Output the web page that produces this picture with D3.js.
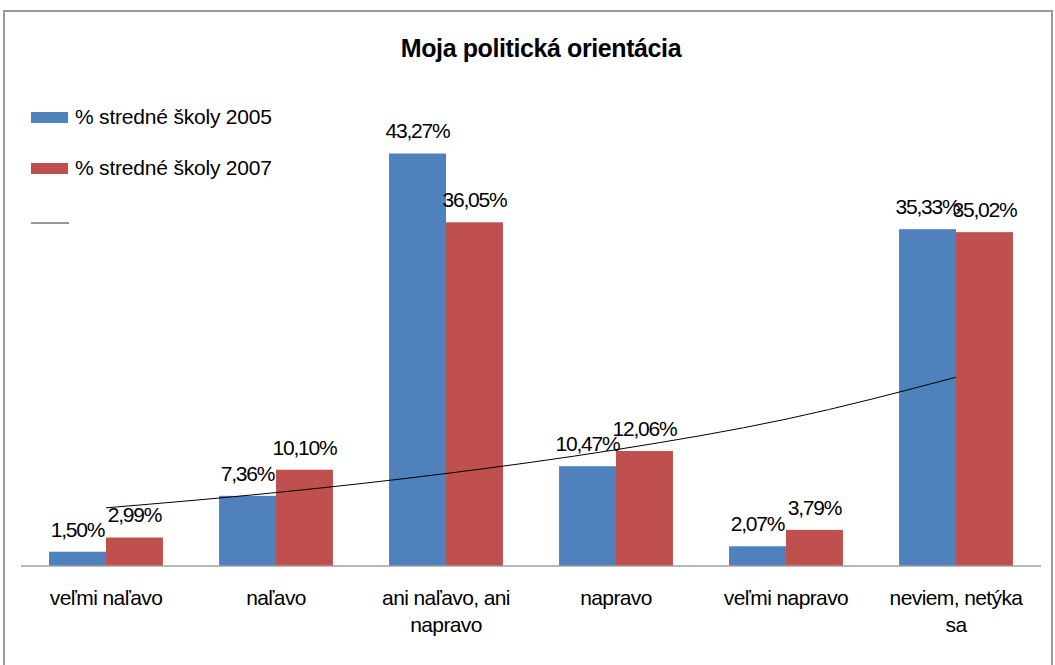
<!DOCTYPE html>
<html>
<head>
<meta charset="utf-8">
<script src="https://cdn.jsdelivr.net/npm/d3@7"></script>
<style>
  body { margin: 0; background: #fff; }
  text { font-family: "Liberation Sans", Arial, sans-serif; fill: #000; }
</style>
</head>
<body>
<div id="graph"></div>
<script>
"use strict";

let width = 1055,
    height = 665;

// data
const categories = ["veľmi naľavo", "naľavo", "ani naľavo, ani napravo", "napravo", "veľmi napravo", "neviem, netýka sa"];
const catLines = [["veľmi naľavo"], ["naľavo"], ["ani naľavo, ani", "napravo"], ["napravo"], ["veľmi napravo"], ["neviem, netýka", "sa"]];
const seriesNames = ["% stredné školy 2005", "% stredné školy 2007"];
const values2005 = [1.50, 7.36, 43.27, 10.47, 2.07, 35.33];
const values2007 = [2.99, 10.10, 36.05, 12.06, 3.79, 35.02];
const trendValues = [6.1, 7.7, 9.7, 12.2, 15.4, 19.8];
const colors = ["#4f81bd", "#c0504d"];

const plot = { left: 21, right: 1041, top: 137, bottom: 566 };

window.onload = function () {
    let svg = d3.select("#graph")
        .append("svg")
        .attr("width", width)
        .attr("height", height);

    // outer border
    svg.append("rect")
        .attr("x", 4).attr("y", 11)
        .attr("width", 1048).attr("height", 670)
        .attr("fill", "none")
        .attr("stroke", "#9a9a9a")
        .attr("stroke-width", 2);

    let x = d3.scaleBand()
        .domain(categories)
        .range([plot.left, plot.right])
        .paddingInner(0.33)
        .paddingOuter(0.165);

    let xs = d3.scaleBand()
        .domain([0, 1])
        .range([0, x.bandwidth()]);

    let y = d3.scaleLinear()
        .domain([0, 45])
        .range([plot.bottom, plot.top]);

    let rows = categories.map((c, i) => ({ cat: c, vals: [values2005[i], values2007[i]] }));

    let groups = svg.append("g").selectAll("g")
        .data(rows)
        .enter()
        .append("g")
        .attr("transform", d => "translate(" + x(d.cat) + ",0)");

    groups.selectAll("rect")
        .data(d => d.vals.map((v, k) => ({ v: v, k: k })))
        .enter()
        .append("rect")
        .attr("x", d => xs(d.k))
        .attr("y", d => y(d.v))
        .attr("width", xs.bandwidth())
        .attr("height", d => y(0) - y(d.v))
        .attr("fill", d => colors[d.k]);

    groups.selectAll(".lbl")
        .data(d => d.vals.map((v, k) => ({ v: v, k: k })))
        .enter()
        .append("text")
        .attr("class", "lbl")
        .attr("x", d => xs(d.k) + xs.bandwidth() / 2)
        .attr("y", d => y(d.v) - 15)
        .attr("text-anchor", "middle")
        .style("font-size", "21px")
        .style("letter-spacing", "-1.2px")
        .text(d => d.v.toFixed(2).replace(".", ",") + "%");

    // x axis line
    svg.append("line")
        .attr("x1", plot.left).attr("x2", plot.right)
        .attr("y1", y(0)).attr("y2", y(0))
        .attr("stroke", "#a0a0a0")
        .attr("stroke-width", 1.5);

    // category labels
    let cl = svg.append("g").selectAll("text")
        .data(categories)
        .enter()
        .append("text")
        .attr("text-anchor", "middle")
        .attr("x", d => x(d) + x.bandwidth() / 2)
        .attr("y", 605)
        .style("font-size", "21px")
        .style("letter-spacing", "-0.6px");
    cl.each(function (d, i) {
        let t = d3.select(this);
        catLines[i].forEach((ln, j) => {
            t.append("tspan")
                .attr("x", x(d) + x.bandwidth() / 2)
                .attr("dy", j === 0 ? 0 : 27)
                .text(ln);
        });
    });

    // trend line
    let line = d3.line()
        .x((d, i) => x(categories[i]) + x.bandwidth() / 2)
        .y(d => y(d))
        .curve(d3.curveMonotoneX);
    svg.append("path")
        .datum(trendValues)
        .attr("fill", "none")
        .attr("stroke", "#000")
        .attr("stroke-width", 1)
        .attr("d", line);

    // title
    svg.append("text")
        .attr("x", 541)
        .attr("y", 57)
        .attr("text-anchor", "middle")
        .style("font-size", "25px")
        .style("font-weight", "bold")
        .style("letter-spacing", "-0.4px")
        .text("Moja politická orientácia");

    // legend
    let legend = svg.append("g");
    seriesNames.forEach((name, i) => {
        legend.append("rect")
            .attr("x", 31).attr("y", 112 + i * 51)
            .attr("width", 37).attr("height", 11)
            .attr("fill", colors[i]);
        legend.append("text")
            .attr("x", 75).attr("y", 124 + i * 51)
            .style("font-size", "21px")
            .style("letter-spacing", "-0.2px")
            .text(name);
    });
    legend.append("line")
        .attr("x1", 31).attr("x2", 69)
        .attr("y1", 223).attr("y2", 223)
        .attr("stroke", "#333")
        .attr("stroke-width", 1);
};
</script>
</body>
</html>
